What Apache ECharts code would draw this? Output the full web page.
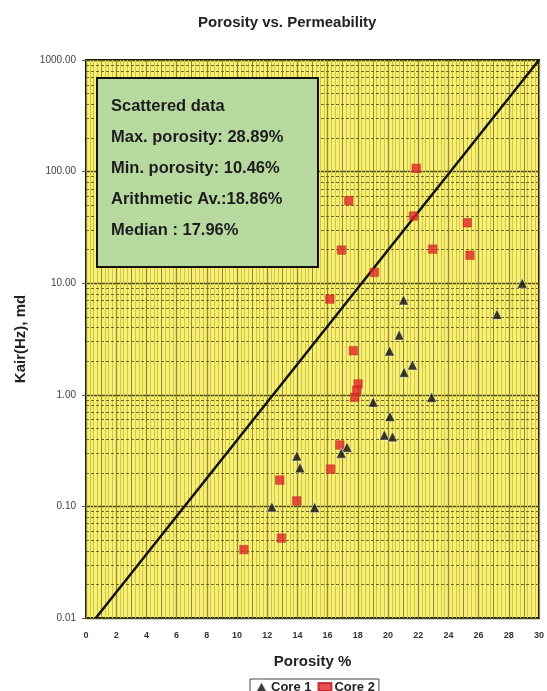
<!DOCTYPE html>
<html>
<head>
<meta charset="utf-8">
<script src="https://cdn.jsdelivr.net/npm/echarts@6/dist/echarts.min.js"></script>
<style>html,body{margin:0;padding:0;background:#fff;}#c{width:547px;height:691px;}</style>
</head>
<body>
<div id="c"></div>
<script>
// Porosity (%) and Kair (md)
var core1Porosity = [28.89, 21.03, 27.22, 20.74, 20.10, 21.62, 21.07, 22.89, 19.02, 20.13, 19.76, 20.30, 17.29, 16.90, 13.96, 14.17, 12.31, 15.14];
var core1Kair     = [10.0, 7.07, 5.26, 3.43, 2.47, 1.85, 1.59, 0.95, 0.86, 0.64, 0.436, 0.42, 0.339, 0.30, 0.283, 0.222, 0.099, 0.098];
var core2Porosity = [21.87, 17.40, 21.69, 25.25, 16.92, 22.96, 25.43, 19.10, 16.15, 17.71, 18.02, 17.93, 17.80, 16.81, 16.20, 12.83, 13.96, 12.94, 10.46];
var core2Kair     = [107, 54.9, 40.0, 34.8, 19.8, 20.2, 17.8, 12.5, 7.2, 2.48, 1.25, 1.10, 0.95, 0.355, 0.216, 0.172, 0.112, 0.052, 0.041];
var trendLine = [[0.65, 0.01], [30, 1000]];
var xTicks = [0, 30, 2];
var yRange = [0.01, 1000];
var statsLines = ['Scattered data', 'Max. porosity: 28.89%', 'Min. porosity: 10.46%', 'Arithmetic Av.:18.86%', 'Median : 17.96%'];

function zip(a, b) { return a.map(function (v, i) { return [v, b[i]]; }); }

// minor log grid lines at 2..9 x 10^n
var minorLog = [];
for (var e = -2; e < 3; e++) {
  for (var m = 2; m <= 9; m++) minorLog.push({ yAxis: m * Math.pow(10, e) });
}

var chart = echarts.init(document.getElementById('c'));
chart.setOption({
  animation: false,
  title: {
    text: 'Porosity vs. Permeability', left: 193, top: 10,
    textStyle: { fontFamily: 'Liberation Sans, Arial', fontSize: 15, fontWeight: 'bold', color: '#222' }
  },
  grid: { left: 86, right: 6, top: 60, bottom: 73, show: true, backgroundColor: '#f7ef78', borderColor: '#111', borderWidth: 2 },
  legend: {
    data: [
      { name: 'Core 1', icon: 'triangle' },
      { name: 'Core 2', icon: 'path://M0,0 L10,0 L10,6 L0,6 Z' }
    ],
    left: 250, top: 679, itemWidth: 13, itemHeight: 12, itemGap: 6,
    borderColor: '#444', borderWidth: 1, borderRadius: 0, padding: [1, 4, 0, 4],
    textStyle: { fontFamily: 'Liberation Sans, Arial', fontSize: 13, fontWeight: 'bold', color: '#222', padding: [0, 0, 0, -2] }
  },
  xAxis: [{
    type: 'value', min: xTicks[0], max: xTicks[1], interval: xTicks[2],
    name: 'Porosity %', nameLocation: 'middle', nameGap: 36,
    nameTextStyle: { fontFamily: 'Liberation Sans, Arial', fontSize: 15, fontWeight: 'bold', color: '#222' },
    axisLine: { show: false }, axisTick: { show: false },
    axisLabel: { fontFamily: 'Liberation Sans, Arial', fontSize: 9, fontWeight: 'bold', color: '#333', margin: 13 },
    splitLine: { show: true, lineStyle: { color: '#5e5a1c', width: 1.2 } },
    minorTick: { show: false, splitNumber: 8 },
    minorSplitLine: { show: true, lineStyle: { color: '#d2c73e', width: 1 } }
  }, {
    type: 'value', min: xTicks[0], max: xTicks[1], interval: 1, position: 'bottom',
    axisLine: { show: false }, axisTick: { show: false }, axisLabel: { show: false },
    splitLine: { show: true, lineStyle: { color: '#948c2a', width: 1 } }
  }],
  yAxis: {
    type: 'log', logBase: 10, min: yRange[0], max: yRange[1],
    name: 'Kair(Hz), md', nameLocation: 'middle', nameGap: 58,
    nameTextStyle: { fontFamily: 'Liberation Sans, Arial', fontSize: 15, fontWeight: 'bold', color: '#222' },
    axisLine: { show: false },
    axisTick: { show: true, length: 4, lineStyle: { color: '#555' } },
    axisLabel: {
      fontFamily: 'Liberation Sans, Arial', fontSize: 10, color: '#444', margin: 10,
      formatter: function (v) { return Number(v).toFixed(2); }
    },
    splitLine: { show: true, lineStyle: { color: '#4a4716', width: 1.4 } }
  },
  graphic: [
    { type: 'rect', shape: { x: 97, y: 78, width: 221, height: 189 },
      style: { fill: '#b7d9a0', stroke: '#111', lineWidth: 2 }, z: 100 }
  ].concat(statsLines.map(function (t, i) {
    return { type: 'text', x: 111, y: 106 + i * 31.2, z: 101,
      style: { text: t, fill: '#1c1c1c', font: 'bold 16.5px "Liberation Sans", Arial', verticalAlign: 'middle' } };
  })),
  series: [
    {
      name: 'trend', type: 'line', data: trendLine, symbol: 'none', silent: true,
      lineStyle: { color: '#111', width: 2.5 }, z: 3,
      markLine: {
        silent: true, symbol: 'none', label: { show: false },
        lineStyle: { color: '#6f6a20', width: 1, type: [3, 2] },
        data: minorLog, z: 1
      }
    },
    {
      name: 'Core 1', type: 'scatter', data: zip(core1Porosity, core1Kair),
      symbol: 'triangle', symbolSize: 10,
      itemStyle: { color: '#0d0d0d', borderColor: '#fff', borderWidth: 0.6 }, z: 5
    },
    {
      name: 'Core 2', type: 'scatter', data: zip(core2Porosity, core2Kair),
      symbol: 'rect', symbolSize: 8.5,
      itemStyle: { color: '#e0262a', borderColor: '#c01818', borderWidth: 0.5 }, z: 4
    }
  ]
});
</script>
</body>
</html>
